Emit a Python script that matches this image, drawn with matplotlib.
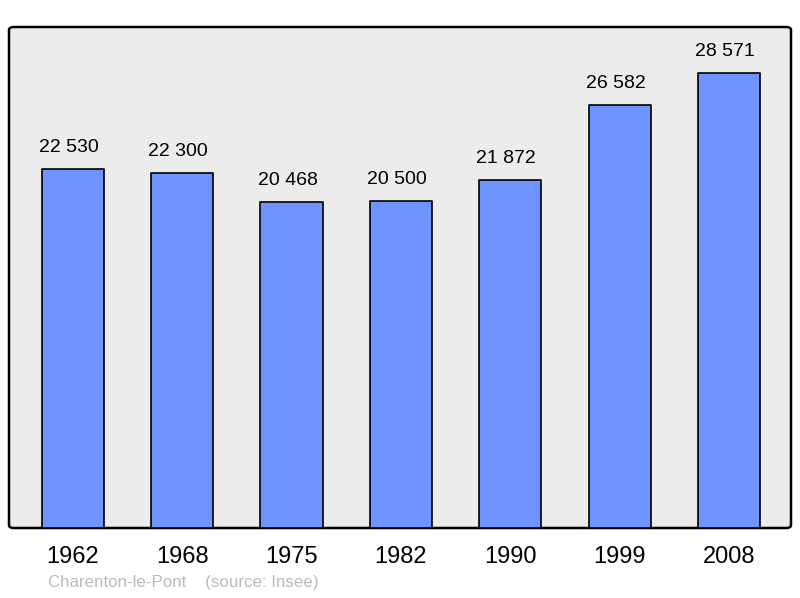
import matplotlib
matplotlib.use("Agg")
import matplotlib.pyplot as plt
from matplotlib.patches import FancyBboxPatch

plt.rcParams['font.family'] = ['Liberation Sans', 'DejaVu Sans']

years = ['1962', '1968', '1975', '1982', '1990', '1999', '2008']
population = [22530, 22300, 20468, 20500, 21872, 26582, 28571]
labels = ['22 530', '22 300', '20 468', '20 500', '21 872', '26 582', '28 571']

fig = plt.figure(figsize=(8, 5.98), dpi=100)
ax = fig.add_axes([9/800, 70/598, 782/800, 501/598])

# rounded gray frame instead of the spines
frame = FancyBboxPatch((0, 0), 1, 1, boxstyle="round,pad=0,rounding_size=0.006",
                       transform=ax.transAxes, facecolor='#ececec', edgecolor='black',
                       linewidth=1.8, zorder=0, clip_on=False)
ax.add_patch(frame)
ax.set_facecolor('none')
for s in ax.spines.values():
    s.set_visible(False)

x = list(range(len(years)))
bars = ax.bar(x, population, width=0.57, color='#7094ff', edgecolor='black',
              linewidth=1.2, zorder=2)
for b in bars:
    b.set_joinstyle('round')

# value labels sit a little left of the bar centre, like the original
for xi, v, lab in zip(x, population, labels):
    ax.annotate(lab, (xi, v), xytext=(-3, 15.5), textcoords='offset points',
                ha='center', va='center', fontsize=14)

ax.set_xlim(-0.585, 6.567)
ax.set_ylim(0, 31450)
ax.set_yticks([])
ax.set_xticks(x)
ax.set_xticklabels(years, fontsize=17)
ax.tick_params(axis='x', length=0, pad=13)

fig.text(48/800, 1 - 583/598, 'Charenton-le-Pont    (source: Insee)', fontsize=12.2,
         color='#bbbbbb', ha='left', va='center')

fig.savefig('out.png', dpi=100)
